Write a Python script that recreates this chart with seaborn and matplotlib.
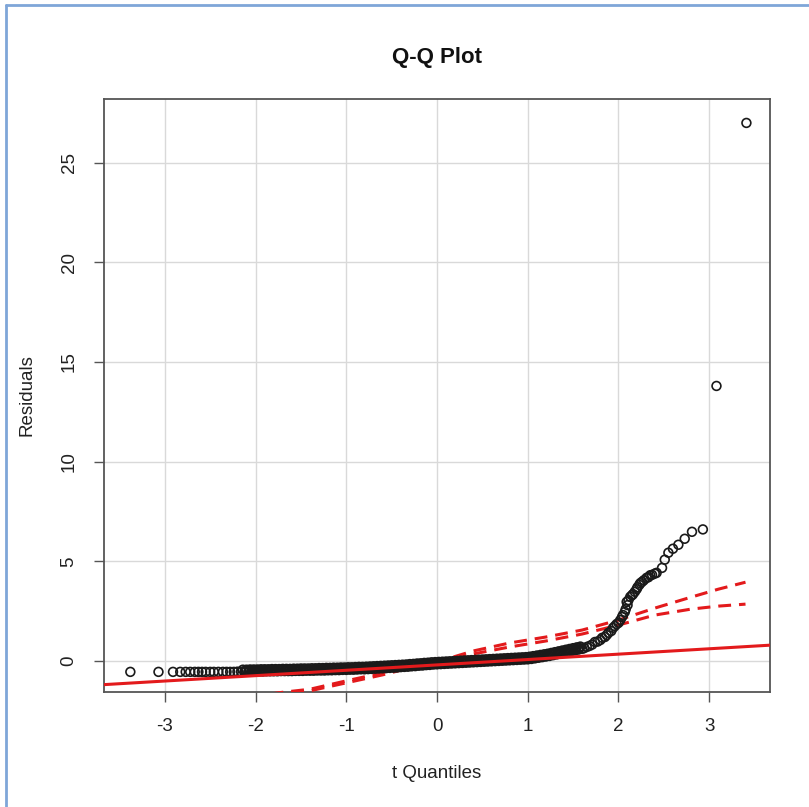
import matplotlib
matplotlib.use("Agg")
import matplotlib.pyplot as plt
import pandas as pd
import seaborn as sns
from matplotlib.lines import Line2D

# ── data ───────────────────────────────────────────────────
# sparse lower tail (flat at the minimum residual)
tail_lo_x = [-3.38, -3.07, -2.91, -2.83, -2.77, -2.72, -2.67, -2.63,
             -2.59, -2.55, -2.50, -2.46, -2.41, -2.36]
tail_lo_y = [-0.55] * len(tail_lo_x)

# dense middle band
band_x = [-2.32, -2.28, -2.24, -2.20, -2.16, -2.12, -2.08, -2.04, -2.00, -1.96,
          -1.92, -1.88, -1.84, -1.80, -1.76, -1.72, -1.68, -1.64, -1.60, -1.56,
          -1.52, -1.48, -1.44, -1.40, -1.36, -1.32, -1.28, -1.24, -1.20, -1.16,
          -1.12, -1.08, -1.04, -1.00, -0.96, -0.92, -0.88, -0.84, -0.80, -0.76,
          -0.72, -0.68, -0.64, -0.60, -0.56, -0.52, -0.48, -0.44, -0.40, -0.36,
          -0.32, -0.28, -0.24, -0.20, -0.16, -0.12, -0.08, -0.04, 0.00, 0.04,
          0.08, 0.12, 0.16, 0.20, 0.24, 0.28, 0.32, 0.36, 0.40, 0.44,
          0.48, 0.52, 0.56, 0.60, 0.64, 0.68, 0.72, 0.76, 0.80, 0.84,
          0.88, 0.92, 0.96, 1.00, 1.04, 1.08, 1.12, 1.16, 1.20, 1.24,
          1.28, 1.32, 1.36, 1.40, 1.44, 1.48, 1.52, 1.56, 1.60]
band_y = [-0.55, -0.55, -0.55, -0.54, -0.54, -0.54, -0.54, -0.53, -0.53, -0.53,
          -0.53, -0.52, -0.52, -0.52, -0.52, -0.51, -0.51, -0.51, -0.51, -0.50,
          -0.50, -0.50, -0.49, -0.49, -0.49, -0.48, -0.48, -0.48, -0.47, -0.47,
          -0.46, -0.46, -0.45, -0.45, -0.44, -0.44, -0.43, -0.42, -0.42, -0.41,
          -0.40, -0.39, -0.38, -0.37, -0.36, -0.35, -0.34, -0.33, -0.31, -0.30,
          -0.29, -0.27, -0.26, -0.24, -0.23, -0.21, -0.20, -0.18, -0.17, -0.16,
          -0.15, -0.14, -0.13, -0.12, -0.11, -0.10, -0.09, -0.08, -0.07, -0.06,
          -0.05, -0.04, -0.03, -0.02, -0.01, 0.00, 0.01, 0.02, 0.03, 0.04,
          0.05, 0.06, 0.07, 0.08, 0.10, 0.13, 0.16, 0.19, 0.22, 0.25,
          0.29, 0.33, 0.37, 0.41, 0.45, 0.49, 0.53, 0.57, 0.61]

# further rows of the band (ties / spread between neighbouring quantiles)
band2_x = [-2.14, -2.10, -2.06, -2.02, -1.98, -1.94, -1.90, -1.86, -1.82, -1.78,
           -1.74, -1.70, -1.66, -1.62, -1.58, -1.54, -1.50, -1.46, -1.42, -1.38,
           -1.34, -1.30, -1.26, -1.22, -1.18, -1.14, -1.10, -1.06, -1.02, -0.98,
           -0.94, -0.90, -0.86, -0.82, -0.78, -0.74, -0.70, -0.66, -0.62, -0.58,
           -0.54, -0.50, -0.46, -0.42, -0.38, -0.34, -0.30, -0.26, -0.22, -0.18,
           -0.14, -0.10, -0.06, -0.02, 0.02, 0.06, 0.10, 0.14, 0.18, 0.22,
           0.26, 0.30, 0.34, 0.38, 0.42, 0.46, 0.50, 0.54, 0.58, 0.62,
           0.66, 0.70, 0.74, 0.78, 0.82, 0.86, 0.90, 0.94, 0.98, 1.02,
           1.06, 1.10, 1.14, 1.18, 1.22, 1.26, 1.30, 1.34, 1.38, 1.42,
           1.46, 1.50, 1.54, 1.58]
band2_y = [-0.44, -0.44, -0.43, -0.43, -0.43, -0.42, -0.42, -0.42, -0.41, -0.41,
           -0.41, -0.40, -0.40, -0.40, -0.39, -0.39, -0.38, -0.38, -0.38, -0.37,
           -0.37, -0.36, -0.36, -0.35, -0.35, -0.34, -0.34, -0.33, -0.33, -0.32,
           -0.32, -0.31, -0.30, -0.30, -0.29, -0.28, -0.27, -0.26, -0.25, -0.24,
           -0.23, -0.22, -0.21, -0.20, -0.19, -0.18, -0.16, -0.15, -0.13, -0.12,
           -0.10, -0.09, -0.07, -0.06, -0.05, -0.04, -0.03, -0.02, -0.01, 0.00,
           0.01, 0.02, 0.03, 0.04, 0.05, 0.06, 0.07, 0.08, 0.09, 0.10,
           0.11, 0.12, 0.13, 0.14, 0.15, 0.16, 0.17, 0.18, 0.19, 0.21,
           0.24, 0.27, 0.30, 0.33, 0.36, 0.40, 0.44, 0.48, 0.52, 0.56,
           0.60, 0.64, 0.68, 0.72]

band3_x = [-2.11, -2.07, -2.03, -1.99, -1.95, -1.91, -1.87, -1.83, -1.79, -1.75,
           -1.71, -1.67, -1.63, -1.59, -1.55, -1.51, -1.47, -1.43, -1.39, -1.35,
           -1.31, -1.27, -1.23, -1.19, -1.15, -1.11, -1.07, -1.03, -0.99, -0.95,
           -0.91, -0.87, -0.83, -0.79, -0.75, -0.71, -0.67, -0.63, -0.59, -0.55,
           -0.51, -0.47, -0.43, -0.39, -0.35, -0.31, -0.27, -0.23, -0.19, -0.15,
           -0.11, -0.07, -0.03, 0.01, 0.05, 0.09, 0.13, 0.17, 0.21, 0.25,
           0.29, 0.33, 0.37, 0.41, 0.45, 0.49, 0.53, 0.57, 0.61, 0.65,
           0.69, 0.73, 0.77, 0.81, 0.85, 0.89, 0.93, 0.97, 1.01, 1.05,
           1.09, 1.13, 1.17, 1.21, 1.25, 1.29, 1.33, 1.37, 1.41, 1.45,
           1.49, 1.53, 1.57]
band3_y = [-0.49, -0.49, -0.48, -0.48, -0.48, -0.47, -0.47, -0.47, -0.47, -0.46,
           -0.46, -0.46, -0.46, -0.45, -0.45, -0.45, -0.44, -0.44, -0.44, -0.43,
           -0.43, -0.43, -0.42, -0.42, -0.41, -0.41, -0.40, -0.40, -0.39, -0.39,
           -0.38, -0.37, -0.37, -0.36, -0.35, -0.34, -0.33, -0.32, -0.31, -0.30,
           -0.29, -0.28, -0.27, -0.26, -0.24, -0.23, -0.22, -0.20, -0.19, -0.17,
           -0.16, -0.14, -0.13, -0.12, -0.11, -0.10, -0.09, -0.08, -0.07, -0.06,
           -0.05, -0.04, -0.03, -0.02, -0.01, 0.00, 0.01, 0.02, 0.03, 0.04,
           0.05, 0.06, 0.07, 0.08, 0.09, 0.10, 0.11, 0.12, 0.14, 0.17,
           0.20, 0.23, 0.26, 0.29, 0.33, 0.37, 0.41, 0.45, 0.49, 0.53,
           0.57, 0.61, 0.65]

# upper tail
tail_hi_x = [1.62, 1.65, 1.68, 1.71, 1.74, 1.77, 1.80, 1.82, 1.85, 1.87,
             1.89, 1.92, 1.94, 1.96, 1.98, 2.00, 2.02, 2.04, 2.05, 2.07,
             2.08, 2.09, 2.10, 2.11, 2.13, 2.15, 2.16, 2.18, 2.20, 2.21,
             2.23, 2.24, 2.26, 2.28, 2.31, 2.33, 2.35, 2.37, 2.40, 2.42,
             2.48, 2.51, 2.55, 2.60, 2.66, 2.73, 2.81, 2.93, 3.08, 3.41]
tail_hi_y = [0.64, 0.70, 0.75, 0.82, 0.95, 0.97, 1.05, 1.16, 1.20, 1.30,
             1.41, 1.50, 1.66, 1.75, 1.85, 1.91, 2.05, 2.21, 2.30, 2.46,
             2.60, 2.96, 2.80, 3.05, 3.22, 3.30, 3.35, 3.47, 3.60, 3.70,
             3.82, 3.90, 3.97, 4.05, 4.17, 4.20, 4.30, 4.32, 4.38, 4.42,
             4.67, 5.08, 5.43, 5.63, 5.83, 6.13, 6.48, 6.60, 13.8, 27.0]

# reference line
ref_x = [-3.67, 3.67]
ref_y = [-1.19, 0.79]

# confidence envelope (dashed)
env_x = [-3.40, -2.40, -1.75, -1.40, -1.00, -0.60, -0.30, 0.00, 0.40, 0.80,
         1.20, 1.60, 2.00, 2.40, 2.80, 3.10, 3.40]
env_hi = [-3.20, -2.10, -1.60, -1.42, -1.00, -0.60, -0.30, -0.05, 0.50, 0.90,
          1.20, 1.55, 2.05, 2.65, 3.20, 3.60, 3.95]
env_lo = [-3.30, -2.20, -1.65, -1.50, -1.10, -0.70, -0.35, -0.10, 0.35, 0.70,
          1.00, 1.35, 1.80, 2.30, 2.60, 2.75, 2.85]

x_ticks = [-3, -2, -1, 0, 1, 2, 3]
y_ticks = [0, 5, 10, 15, 20, 25]

points = pd.DataFrame({
    "q": tail_lo_x + band_x + band2_x + band3_x + tail_hi_x,
    "resid": tail_lo_y + band_y + band2_y + band3_y + tail_hi_y,
})

# ── figure ─────────────────────────────────────────────────
sns.set_theme(style="white")
plt.rcParams["font.family"] = ["Liberation Sans", "DejaVu Sans"]
plt.rcParams["axes.unicode_minus"] = False

fig = plt.figure(figsize=(8.09, 8.07), dpi=100)
ax = fig.add_axes([0.1286, 0.1425, 0.8232, 0.7348])

ax.set_xlim(-3.67, 3.67)
ax.set_ylim(-1.56, 28.2)
ax.set_xticks(x_ticks)
ax.set_yticks(y_ticks)
ax.grid(True, color="#d9d9d9", linewidth=1)
ax.set_axisbelow(True)

dash = (0, (4.2, 2.6))
sns.lineplot(x=env_x, y=env_hi, ax=ax, color="#e31a1c", linewidth=2.2,
             linestyle=dash, zorder=3)
sns.lineplot(x=env_x, y=env_lo, ax=ax, color="#e31a1c", linewidth=2.2,
             linestyle=dash, zorder=3)

sns.scatterplot(data=points, x="q", y="resid", ax=ax, marker="o",
                facecolor="none", edgecolor="#1a1a1a", linewidth=1.2,
                s=40, zorder=4)

sns.lineplot(x=ref_x, y=ref_y, ax=ax, color="#e31a1c", linewidth=2.2, zorder=5)

for side in ax.spines.values():
    side.set_color("#555555")
    side.set_linewidth(1.3)

ax.tick_params(axis="both", direction="out", length=7, width=1,
               color="#555555", labelsize=13.5, labelcolor="#222222",
               bottom=True, left=True)
ax.tick_params(axis="x", pad=12)
ax.tick_params(axis="y", labelrotation=90, pad=12)
for lab in ax.get_yticklabels():
    lab.set_verticalalignment("center")

ax.set_xlabel("t Quantiles", fontsize=13.5, color="#222222", labelpad=21)
ax.set_ylabel("Residuals", fontsize=13.5, color="#222222", labelpad=18)
ax.set_title("Q-Q Plot", fontsize=16, fontweight="bold", color="#111111", pad=26)

# window frame of the screenshot
fig.add_artist(Line2D([0.007, 0.007], [0, 0.994], transform=fig.transFigure,
                      color="#7fa6d8", linewidth=2))
fig.add_artist(Line2D([0.007, 1], [0.994, 0.994], transform=fig.transFigure,
                      color="#7fa6d8", linewidth=2))

fig.savefig("out.png", dpi=100)
plt.close()
